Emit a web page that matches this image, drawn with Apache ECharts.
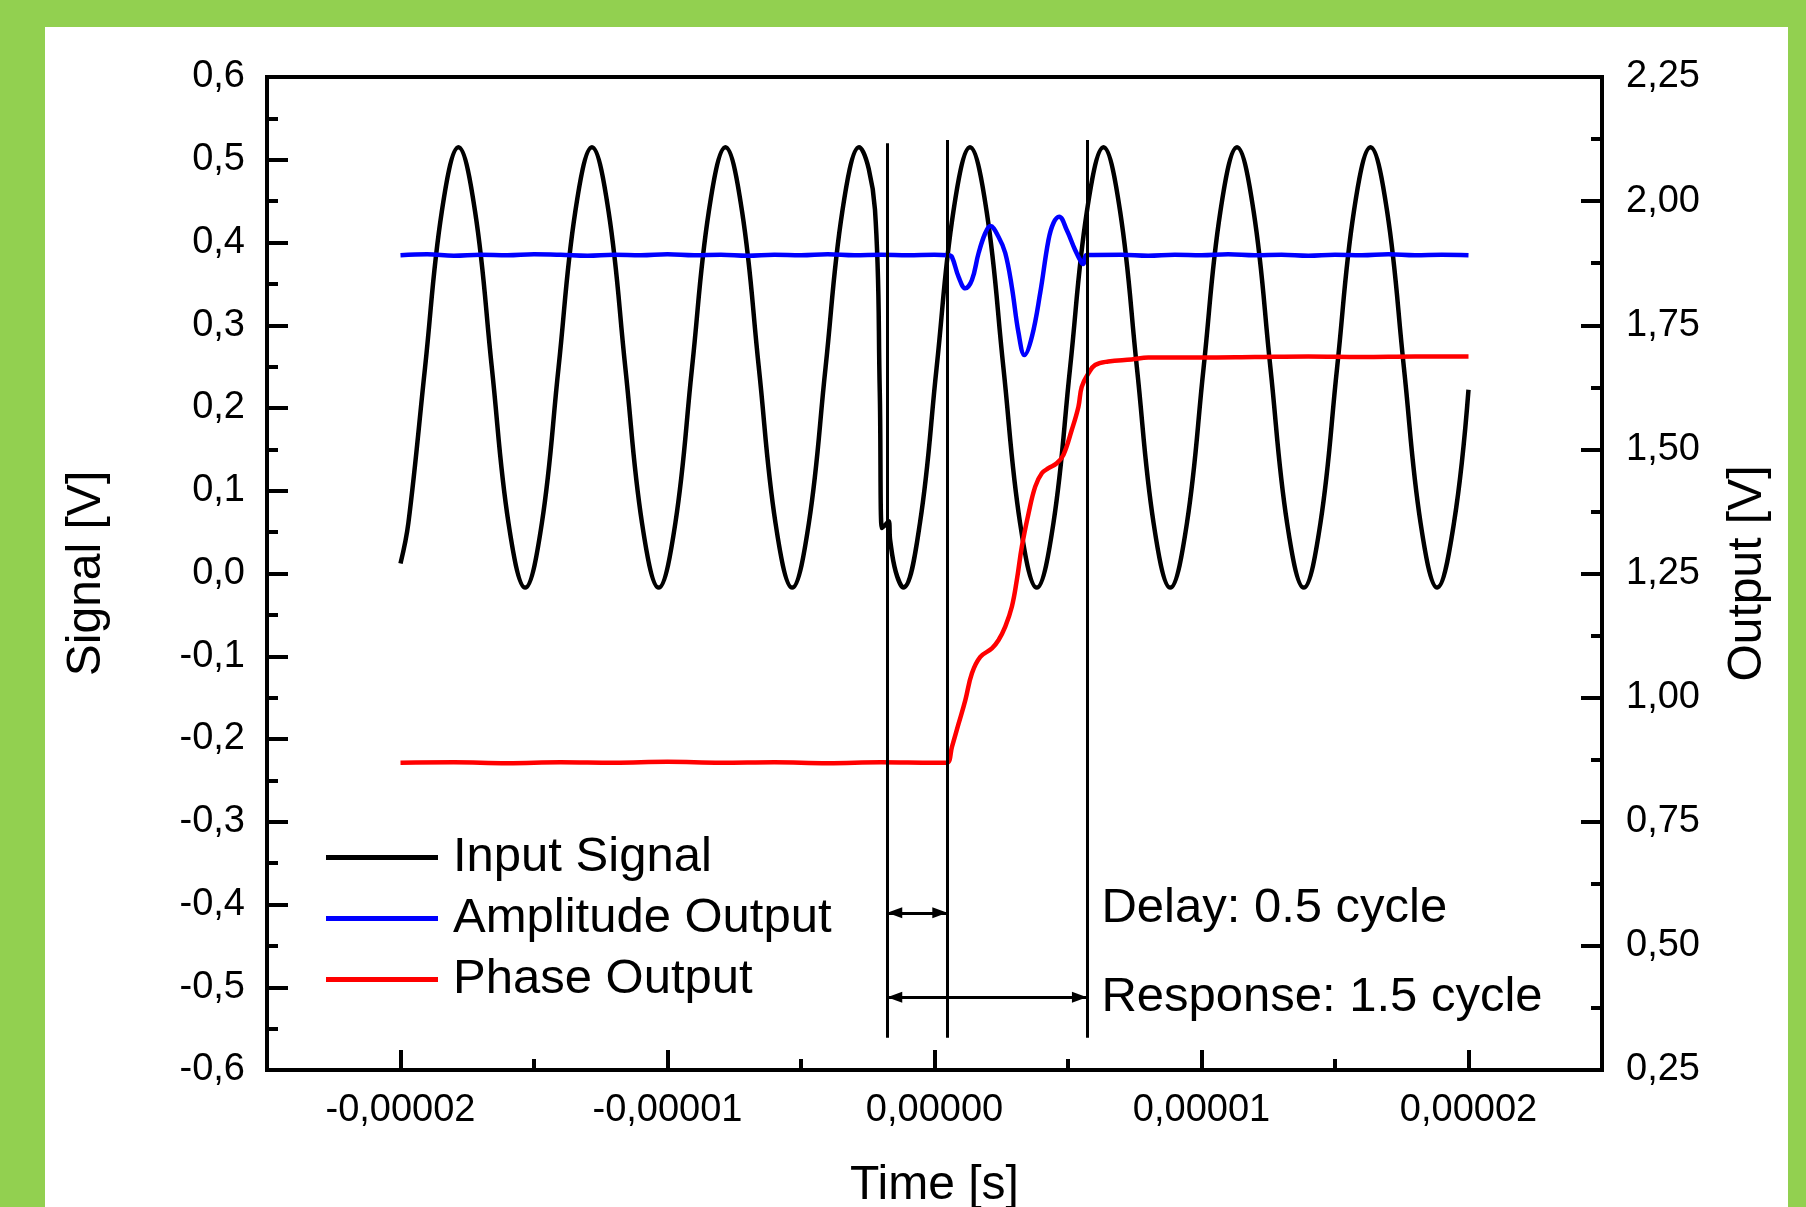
<!DOCTYPE html>
<html><head><meta charset="utf-8">
<script src="https://cdn.jsdelivr.net/npm/echarts@6/dist/echarts.min.js"></script>
<style>
html,body{margin:0;padding:0;width:1806px;height:1207px;overflow:hidden;background:#92D050;}
#panel{position:absolute;left:45px;top:27px;width:1743px;height:1180px;background:#fff;}
#chart{position:absolute;left:0;top:0;width:1806px;height:1207px;}
</style></head><body>
<div id="panel"></div><div id="chart"></div>
<script>
const FONT = '"Liberation Sans", Arial, sans-serif';
const US = 1e-6; // data times below are in microseconds

const inputTime = [-20.0,-19.705,-19.08,-18.455,-17.83,-17.205,-16.58,-15.955,-15.33,-14.705,-14.08,-13.455,-12.83,-12.205,-11.58,-10.955,-10.33,-9.705,-9.08,-8.455,-7.83,-7.205,-6.58,-5.955,-5.33,-4.705,-4.08,-3.455,-2.83,-2.23,-2.05,-1.97,-1.86,-1.72,-1.66,-1.45,-1.17,-0.545,0.08,0.705,1.33,1.955,2.58,3.205,3.83,4.455,5.08,5.705,6.33,6.955,7.58,8.205,8.83,9.455,10.08,10.705,11.33,11.955,12.58,13.205,13.83,14.455,15.08,15.705,16.33,16.955,17.58,18.205,18.83,19.455,20.0];
const inputValue = [0.012,0.061,0.249,0.437,0.515,0.437,0.249,0.061,-0.017,0.061,0.249,0.437,0.515,0.437,0.249,0.061,-0.017,0.061,0.249,0.437,0.515,0.437,0.249,0.061,-0.017,0.061,0.249,0.437,0.515,0.44,0.22,0.055,0.058,0.063,0.040,0.002,-0.017,0.061,0.249,0.437,0.515,0.437,0.249,0.061,-0.017,0.061,0.249,0.437,0.515,0.437,0.249,0.061,-0.017,0.061,0.249,0.437,0.515,0.437,0.249,0.061,-0.017,0.061,0.249,0.437,0.515,0.437,0.249,0.061,-0.017,0.061,0.222];

const ampTime = [-20,-19,-18,-17,-16,-15,-14,-13,-12,-11,-10,-9,-8,-7,-6,-5,-4,-3,-2,-1,0,0.53,0.654,0.905,1.155,1.402,1.652,1.903,2.09,2.40,2.65,2.897,3.148,3.372,3.645,3.959,4.269,4.456,4.669,4.953,5.267,5.514,5.578,5.701,7,8,9,10,11,12,13,14,15,16,17,18,19,20];
const ampValue = [1.891,1.893,1.890,1.892,1.891,1.893,1.892,1.890,1.892,1.891,1.893,1.891,1.892,1.890,1.892,1.891,1.893,1.891,1.892,1.891,1.892,1.891,1.8875,1.847,1.8244,1.8411,1.8955,1.9358,1.950,1.9278,1.8955,1.827,1.7344,1.690,1.7263,1.815,1.9217,1.956,1.9686,1.9418,1.9016,1.8754,1.8734,1.8915,1.892,1.890,1.892,1.891,1.893,1.891,1.892,1.890,1.892,1.891,1.893,1.891,1.892,1.891];

const phaseTime = [-20,-18,-16,-14,-12,-10,-8,-6,-4,-2,0,0.467,0.654,0.905,1.155,1.402,1.716,2.15,2.40,2.65,2.897,3.084,3.271,3.522,3.772,4.019,4.269,4.579,4.83,5.14,5.391,5.514,5.764,6.015,6.51,7.383,8.007,10,12,14,16,18,20];
const phaseValue = [0.869,0.870,0.868,0.870,0.869,0.871,0.869,0.870,0.868,0.870,0.869,0.869,0.901,0.948,0.995,1.049,1.082,1.099,1.116,1.143,1.183,1.237,1.304,1.371,1.425,1.452,1.462,1.472,1.489,1.539,1.586,1.626,1.653,1.670,1.677,1.681,1.685,1.685,1.686,1.687,1.686,1.687,1.687];

const xTickValues = [-2e-5,-1e-5,0,1e-5,2e-5];
const xTickLabels = ['-0,00002','-0,00001','0,00000','0,00001','0,00002'];
const xMinorTickValues = [-1.5e-5,-0.5e-5,0.5e-5,1.5e-5];

const markerTimes = [-1.77, 0.48, 5.71];
const markerTops = [0.520, 0.524, 0.524];
const markerBottom = -0.561;
const arrowFrom = [-1.77, -1.77];
const arrowTo = [0.48, 5.71];
const arrowLevel = [-0.41, -0.512];
const noteText = ['Delay: 0.5 cycle', 'Response: 1.5 cycle'];
const noteTime = [6.25, 6.25];
const noteLevel = [-0.405, -0.512];
const legendNames = ['Input Signal','Amplitude Output','Phase Output'];

const pairs = (t, v) => t.map((x, i) => [x * US, v[i]]);
const blackLine = {color:'#000', width:4};
const arrowEnd = {symbol:'triangle', symbolSize:[11,15], symbolOffset:[0,7.5]};

const markLines = markerTimes.map((t, i) => [
  {coord:[t*US, markerBottom], symbol:'none'},
  {coord:[t*US, markerTops[i]], symbol:'none'}
]).concat(arrowFrom.map((t, i) => [
  Object.assign({coord:[t*US, arrowLevel[i]]}, arrowEnd),
  Object.assign({coord:[arrowTo[i]*US, arrowLevel[i]]}, arrowEnd)
]));

const chart = echarts.init(document.getElementById('chart'), null, {renderer:'canvas'});
chart.setOption({
  animation:false,
  backgroundColor:'transparent',
  textStyle:{fontFamily:FONT},
  grid:[
    {left:267, right:204, top:77, bottom:137, show:true, borderColor:'#000', borderWidth:4,
     backgroundColor:'transparent', containLabel:false, outerBoundsMode:'none'},
    {left:267, right:204, top:77, bottom:137, containLabel:false, outerBoundsMode:'none'}
  ],
  legend:{
    orient:'vertical', left:326, top:832, padding:0, icon:'rect',
    itemWidth:112, itemHeight:5, itemGap:10, selectedMode:false,
    textStyle:{fontSize:49, color:'#000', lineHeight:51, fontFamily:FONT, padding:[0,0,0,10]},
    data:legendNames
  },
  xAxis:[
    {type:'value', gridIndex:0, position:'bottom', min:-2.5e-5, max:2.5e-5,
     axisLine:{show:true, onZero:false, lineStyle:blackLine},
     axisTick:{show:true, inside:true, length:20, customValues:xTickValues, lineStyle:blackLine},
     axisLabel:{show:true, customValues:xTickValues, fontSize:38, color:'#000', margin:22, fontFamily:FONT,
       formatter:v => { const i = xTickValues.findIndex(t => Math.abs(t - v) < 1e-12); return i >= 0 ? xTickLabels[i] : ''; }},
     splitLine:{show:false},
     name:'Time [s]', nameLocation:'middle', nameGap:92,
     nameTextStyle:{fontSize:48, color:'#000', fontFamily:FONT}},
    {type:'value', gridIndex:1, position:'bottom', min:-2.5e-5, max:2.5e-5,
     axisLine:{show:false, onZero:false},
     axisTick:{show:true, inside:true, length:11, customValues:xMinorTickValues, lineStyle:blackLine},
     axisLabel:{show:false}, splitLine:{show:false}}
  ],
  yAxis:[
    {type:'value', gridIndex:0, position:'left', min:-0.6, max:0.6, interval:0.1,
     axisLine:{show:true, onZero:false, lineStyle:blackLine},
     axisTick:{show:true, inside:true, length:21, lineStyle:blackLine},
     minorTick:{show:true, splitNumber:2, length:11, lineStyle:blackLine},
     axisLabel:{fontSize:38, color:'#000', margin:22, fontFamily:FONT,
       formatter:v => (Math.abs(v) < 1e-9 ? 0 : v).toFixed(1).replace('.', ',')},
     splitLine:{show:false}, minorSplitLine:{show:false},
     name:'Signal [V]', nameLocation:'middle', nameRotate:90, nameGap:156,
     nameTextStyle:{fontSize:48, color:'#000', fontFamily:FONT}},
    {type:'value', gridIndex:0, position:'right', min:0.25, max:2.25, interval:0.25,
     axisLine:{show:true, onZero:false, lineStyle:blackLine},
     axisTick:{show:true, inside:true, length:21, lineStyle:blackLine},
     minorTick:{show:true, splitNumber:2, length:11, lineStyle:blackLine},
     axisLabel:{fontSize:38, color:'#000', margin:24, fontFamily:FONT,
       formatter:v => v.toFixed(2).replace('.', ',')},
     splitLine:{show:false}, minorSplitLine:{show:false},
     name:'Output [V]', nameLocation:'middle', nameRotate:90, nameGap:122,
     nameTextStyle:{fontSize:48, color:'#000', fontFamily:FONT}},
    {type:'value', gridIndex:1, show:false, min:0, max:1}
  ],
  series:[
    {name:legendNames[0], type:'line', xAxisIndex:0, yAxisIndex:0, symbol:'none', smooth:0.4,
     data:pairs(inputTime, inputValue),
     lineStyle:{color:'#000', width:4.5}, itemStyle:{color:'#000'},
     markLine:{silent:true, symbol:'none', label:{show:false},
       lineStyle:{color:'#000', width:3, type:'solid'}, emphasis:{disabled:true},
       data:markLines},
     markPoint:{silent:true, symbol:'circle', symbolSize:0, itemStyle:{color:'transparent'},
       label:{show:true, position:'right', distance:0, formatter:'{b}', fontSize:49, color:'#000', fontFamily:FONT},
       data:noteText.map((n, i) => ({name:n, coord:[noteTime[i]*US, noteLevel[i]]}))}
    },
    {name:legendNames[1], type:'line', xAxisIndex:0, yAxisIndex:1, symbol:'none', smooth:0.4,
     data:pairs(ampTime, ampValue),
     lineStyle:{color:'#0000FF', width:4.5}, itemStyle:{color:'#0000FF'}},
    {name:legendNames[2], type:'line', xAxisIndex:0, yAxisIndex:1, symbol:'none', smooth:0.4,
     data:pairs(phaseTime, phaseValue),
     lineStyle:{color:'#FF0000', width:4.5}, itemStyle:{color:'#FF0000'}}
  ]
});
</script>
</body></html>
